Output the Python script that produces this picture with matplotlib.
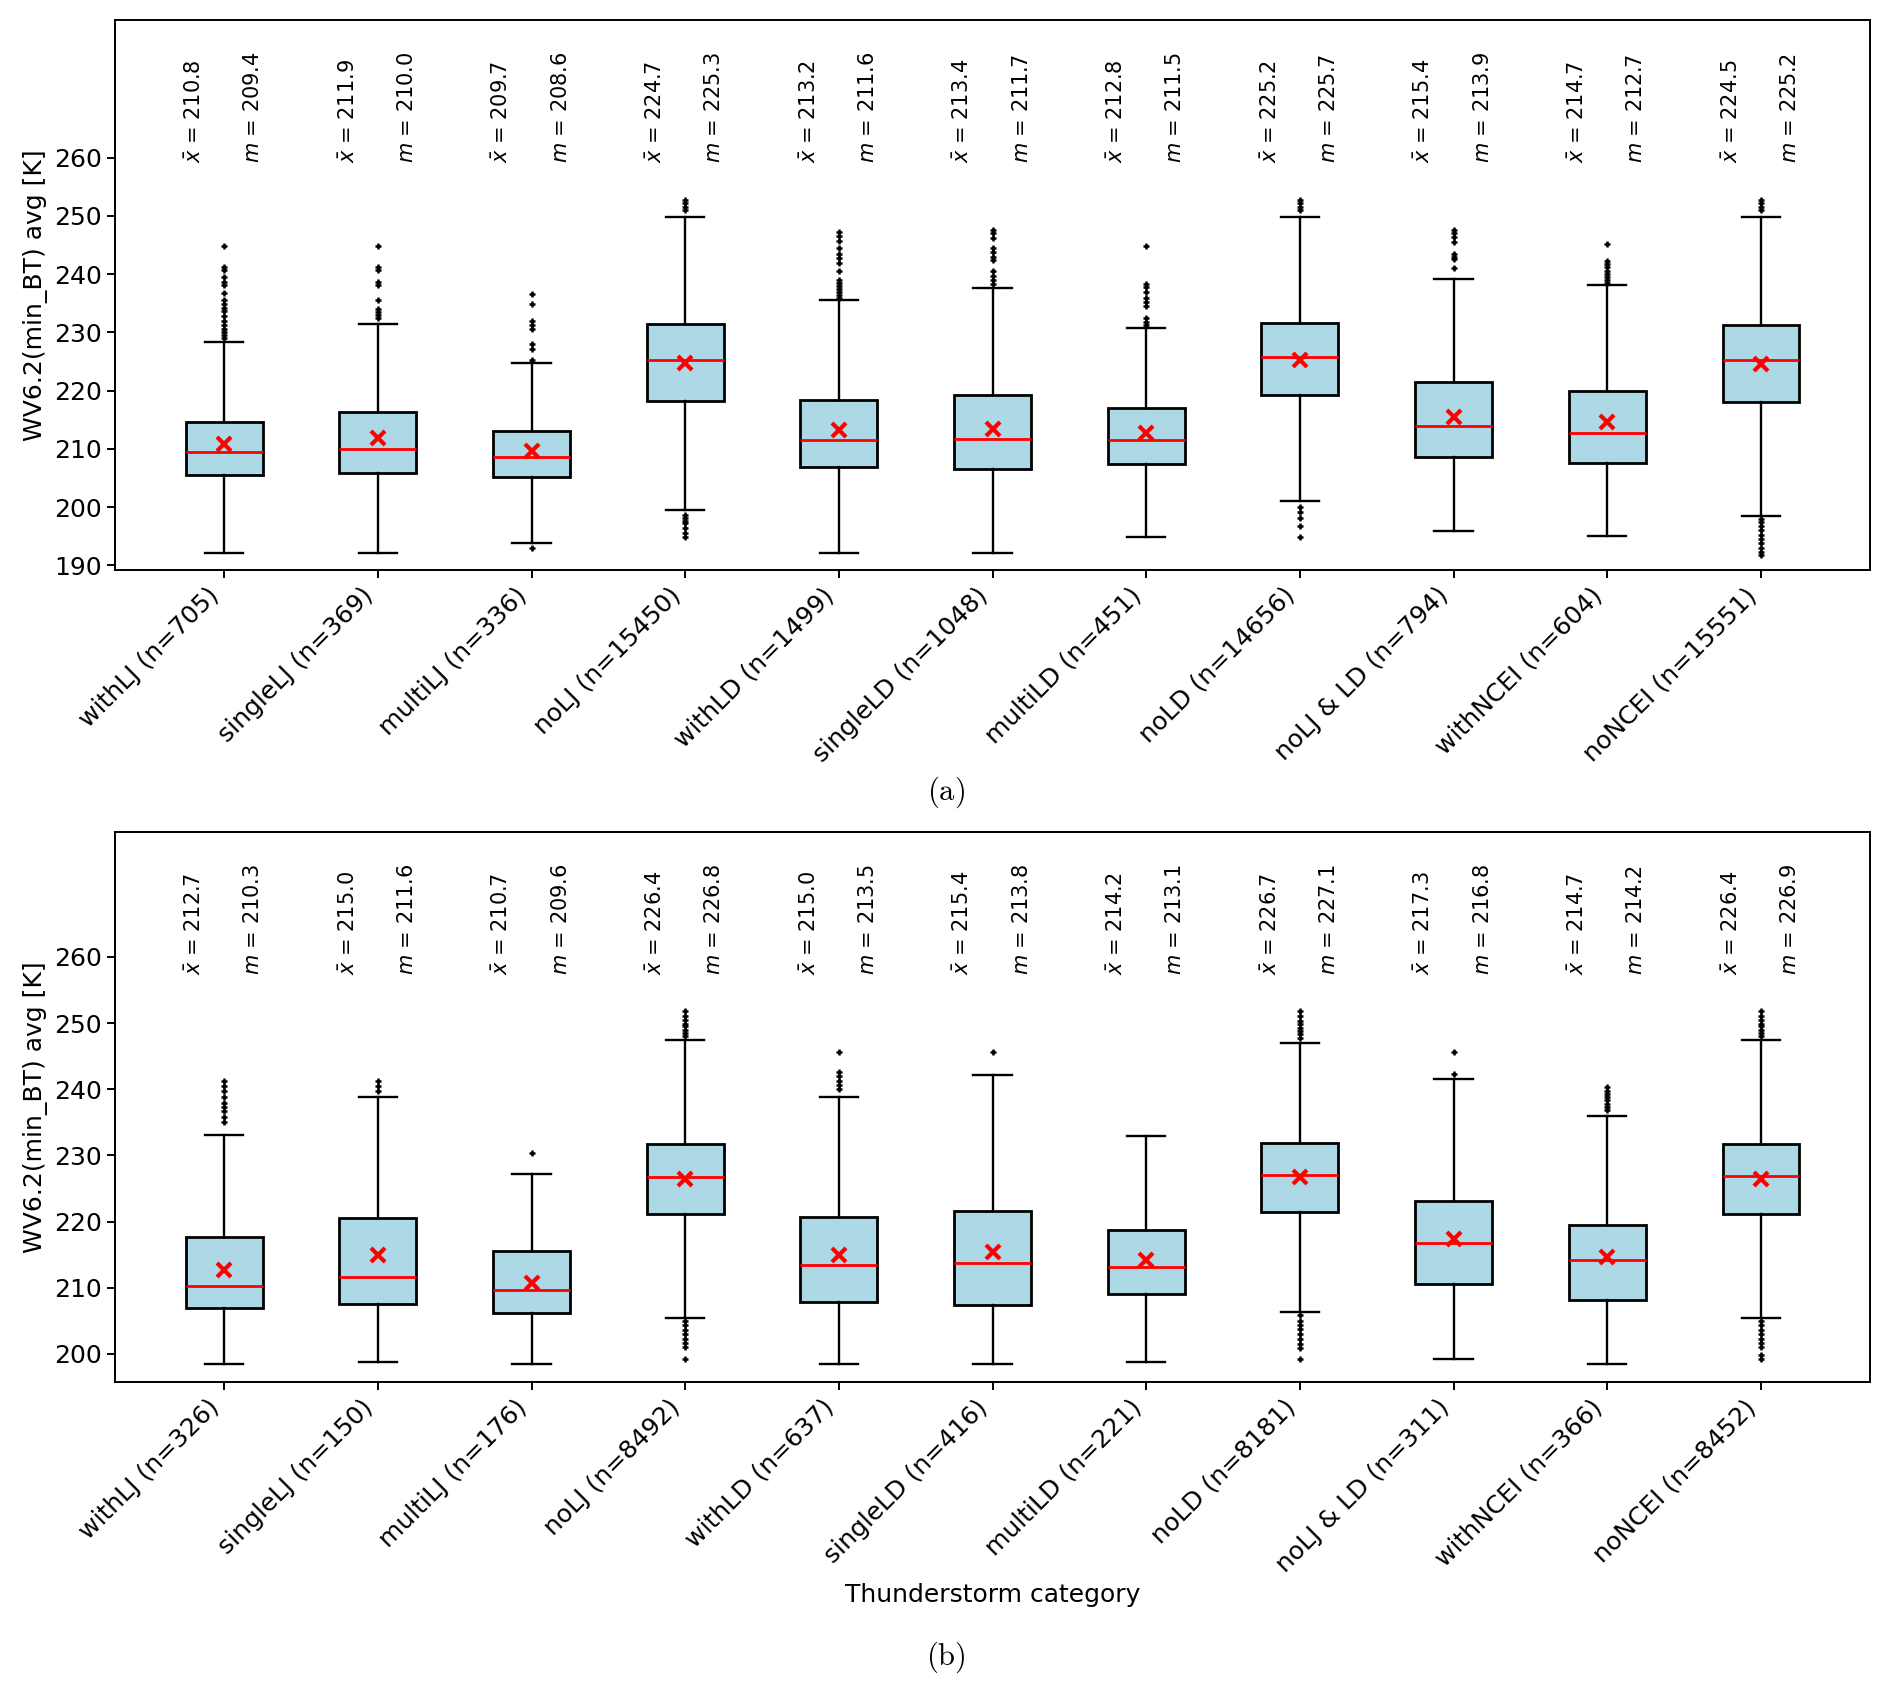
import matplotlib
matplotlib.use("Agg")
import matplotlib.pyplot as plt
import matplotlib.transforms as mtransforms

categories = ["withLJ", "singleLJ", "multiLJ", "noLJ", "withLD", "singleLD",
              "multiLD", "noLD", "noLJ & LD", "withNCEI", "noNCEI"]

# panel (a)
counts_a = [705, 369, 336, 15450, 1499, 1048, 451, 14656, 794, 604, 15551]
means_a = [210.8, 211.9, 209.7, 224.7, 213.2, 213.4, 212.8, 225.2, 215.4, 214.7, 224.5]
medians_a = [209.4, 210.0, 208.6, 225.3, 211.6, 211.7, 211.5, 225.7, 213.9, 212.7, 225.2]
q1_a = [205.5, 205.9, 205.1, 218.3, 206.9, 206.5, 207.4, 219.2, 208.6, 207.6, 218.1]
q3_a = [214.7, 216.4, 213.0, 231.5, 218.4, 219.2, 217.0, 231.7, 221.5, 220.0, 231.3]
whislo_a = [192.2, 192.2, 193.9, 199.5, 192.2, 192.2, 194.8, 201.0, 195.9, 195.1, 198.4]
whishi_a = [228.4, 231.5, 224.8, 249.8, 235.5, 237.6, 230.7, 249.8, 239.1, 238.1, 249.8]
fliers_a = [
    [244.8, 241.3, 240.8, 239.5, 238.6, 238.2, 236.8, 235.5, 234.9, 234.2, 233.6,
     232.8, 231.9, 231.2, 230.6, 230.0, 229.5, 229.0],
    [244.8, 241.3, 240.7, 238.7, 238.1, 235.5, 234.0, 233.5, 233.0, 232.5],
    [236.6, 234.8, 232.0, 231.2, 230.6, 228.0, 227.2, 225.3, 193.0],
    [252.8, 252.3, 251.6, 251.0, 198.7, 198.2, 197.7, 197.2, 196.4, 195.6, 194.8],
    [247.2, 246.5, 245.7, 244.5, 243.5, 242.8, 242.0, 240.5, 239.0, 238.5, 238.0,
     237.5, 237.0, 236.5, 236.0],
    [247.6, 247.0, 246.3, 244.5, 243.8, 243.0, 242.5, 240.5, 239.7, 239.0, 238.3],
    [244.8, 238.3, 237.8, 237.0, 236.0, 235.2, 234.6, 232.5, 231.8, 231.3],
    [252.8, 252.2, 251.6, 251.0, 200.0, 199.2, 198.2, 196.8, 194.9],
    [247.6, 247.0, 246.4, 245.5, 243.5, 243.0, 242.6, 241.0],
    [245.2, 242.3, 241.8, 241.3, 240.6, 240.0, 239.5, 239.0, 238.5],
    [252.8, 252.2, 251.6, 251.0, 198.0, 197.4, 196.8, 196.0, 195.3, 194.6, 193.8,
     193.0, 192.3, 191.8],
]

# panel (b)
counts_b = [326, 150, 176, 8492, 637, 416, 221, 8181, 311, 366, 8452]
means_b = [212.7, 215.0, 210.7, 226.4, 215.0, 215.4, 214.2, 226.7, 217.3, 214.7, 226.4]
medians_b = [210.3, 211.6, 209.6, 226.8, 213.5, 213.8, 213.1, 227.1, 216.8, 214.2, 226.9]
q1_b = [206.9, 207.5, 206.1, 221.1, 207.9, 207.4, 209.0, 221.5, 210.6, 208.2, 221.1]
q3_b = [217.6, 220.5, 215.5, 231.7, 220.7, 221.6, 218.7, 231.8, 223.1, 219.5, 231.7]
whislo_b = [198.4, 198.8, 198.4, 205.4, 198.4, 198.4, 198.7, 206.3, 199.2, 198.4, 205.4]
whishi_b = [233.1, 238.8, 227.2, 247.5, 238.8, 242.2, 233.0, 247.0, 241.6, 236.0, 247.5]
fliers_b = [
    [241.2, 240.5, 239.8, 238.8, 237.9, 237.3, 236.7, 235.8, 235.0],
    [241.2, 240.5, 239.8],
    [230.3],
    [251.8, 251.0, 250.4, 249.9, 249.5, 249.0, 248.5, 248.0, 205.0, 204.3, 203.6,
     203.0, 202.3, 201.6, 201.0, 199.2],
    [245.6, 242.6, 242.0, 241.3, 240.6, 240.0],
    [245.6],
    [],
    [251.8, 251.0, 250.3, 249.8, 249.3, 248.8, 248.3, 247.8, 205.8, 205.0, 204.4,
     203.8, 203.0, 202.3, 201.5, 200.9, 199.2],
    [245.6, 242.3],
    [240.3, 239.8, 239.3, 238.8, 238.3, 237.8, 237.3, 236.8],
    [251.8, 251.0, 250.4, 249.9, 249.5, 249.0, 248.5, 248.0, 205.0, 204.3, 203.6,
     203.0, 202.3, 201.6, 201.0, 199.8, 199.2],
]

plt.rcParams["mathtext.fontset"] = "dejavusans"

fig = plt.figure(figsize=(18.92, 16.94), dpi=100)
ax_a = fig.add_axes([0.0608, 0.6635, 0.9276, 0.3245])
ax_b = fig.add_axes([0.0608, 0.1842, 0.9276, 0.3247])


def draw_panel(ax, counts, means, medians, q1, q3, whislo, whishi, fliers, ylim):
    stats = []
    for i in range(len(categories)):
        stats.append({
            "label": f"{categories[i]} (n={counts[i]})",
            "mean": means[i], "med": medians[i],
            "q1": q1[i], "q3": q3[i],
            "whislo": whislo[i], "whishi": whishi[i],
            "fliers": fliers[i],
        })
    ax.bxp(stats, widths=0.5, showmeans=True, patch_artist=True,
           boxprops=dict(facecolor="lightblue", edgecolor="black", linewidth=2),
           whiskerprops=dict(color="black", linewidth=1.7),
           capprops=dict(color="black", linewidth=1.7),
           medianprops=dict(color="red", linewidth=2),
           meanprops=dict(marker="x", markeredgecolor="red", markersize=10,
                          markeredgewidth=3),
           flierprops=dict(marker="+", markeredgecolor="black", markersize=5,
                           markeredgewidth=1.8))
    ax.set_ylim(*ylim)
    ax.set_xlim(0.29, 11.71)
    trans = mtransforms.blended_transform_factory(ax.transData, ax.transAxes)
    for i in range(len(categories)):
        ax.text(i + 1 - 0.19, 0.74, rf"$\bar{{x}}$ = {means[i]:.1f}", rotation=90,
                ha="center", va="bottom", fontsize=15, transform=trans)
        ax.text(i + 1 + 0.19, 0.74, rf"$m$ = {medians[i]:.1f}", rotation=90,
                ha="center", va="bottom", fontsize=15, transform=trans)
    ax.set_ylabel("WV6.2(min_BT) avg [K]", fontsize=18)
    ax.tick_params(axis="both", labelsize=18, length=6, width=1.4)
    plt.setp(ax.get_xticklabels(), rotation=45, ha="right")
    for sp in ax.spines.values():
        sp.set_linewidth(1.4)


draw_panel(ax_a, counts_a, means_a, medians_a, q1_a, q3_a, whislo_a, whishi_a,
           fliers_a, (189.2, 283.6))
ax_a.set_yticks([190, 200, 210, 220, 230, 240, 250, 260])

draw_panel(ax_b, counts_b, means_b, medians_b, q1_b, q3_b, whislo_b, whishi_b,
           fliers_b, (195.75, 278.9))
ax_b.set_yticks([200, 210, 220, 230, 240, 250, 260])
ax_b.set_xlabel("Thunderstorm category", fontsize=18)

fig.text(0.5, 0.5325, r"$\mathrm{(a)}$", ha="center", va="center", fontsize=22,
         math_fontfamily="cm")
fig.text(0.5, 0.0218, r"$\mathrm{(b)}$", ha="center", va="center", fontsize=22,
         math_fontfamily="cm")

fig.savefig("out.png", dpi=100)
